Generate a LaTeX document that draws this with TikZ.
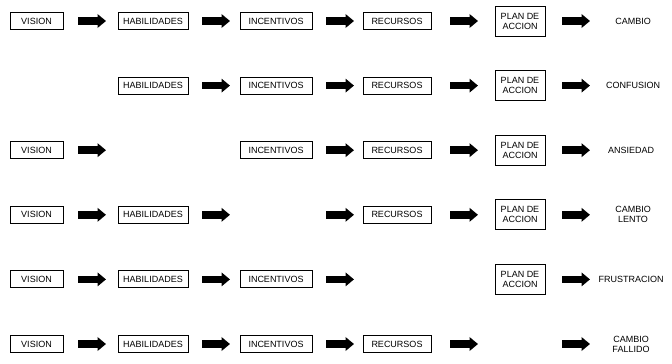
\documentclass[tikz,border=0pt]{standalone}
\usepackage{fontspec}
\setmainfont{Liberation Sans}
\usetikzlibrary{arrows.meta}

\tikzset{
  caja/.style={draw, line width=0.9pt, inner sep=0pt, minimum height=17pt,
    font=\fontsize{9}{10}\selectfont, align=center},
  flecha/.style={line width=7.5pt, -{Triangle[length=8.5pt,width=13.5pt]}},
  efecto/.style={font=\fontsize{9}{10}\selectfont, align=center}
}

\begin{document}
\begin{tikzpicture}[x=1pt,y=-1pt]
  \useasboundingbox (0,0) rectangle (672,364);
  % one row every 64.6pt, first at 21
  \foreach \f in {1,3,4,5,6}
    \node[caja, minimum width=53pt] (vision\f) at (36.5,{21+64.6*(\f-1)}) {VISION};
  \foreach \f in {1,2,4,5,6}
    \node[caja, minimum width=70pt] (habil\f) at (153,{21+64.6*(\f-1)}) {HABILIDADES};
  \foreach \f in {1,2,3,5,6}
    \node[caja, minimum width=72pt] (incent\f) at (276,{21+64.6*(\f-1)}) {INCENTIVOS};
  \foreach \f in {1,2,3,4,6}
    \node[caja, minimum width=68pt] (recur\f) at (397,{21+64.6*(\f-1)}) {RECURSOS};
  \foreach \f in {1,2,3,4,5}
    \node[caja, minimum width=50pt, minimum height=30pt] (plan\f) at (520,{21+64.6*(\f-1)}) {PLAN DE\\ACCION};

  % results
  \node[efecto] (res1) at (633,21) {CAMBIO};
  \node[efecto] (res2) at (633,85.6) {CONFUSION};
  \node[efecto] (res3) at (631,150.2) {ANSIEDAD};
  \node[efecto] (res4) at (633,214.8) {CAMBIO\\LENTO};
  \node[efecto] (res5) at (631,279.4) {FRUSTRACION};
  \node[efecto] (res6) at (631,344) {CAMBIO\\FALLIDO};

  % arrows
  \foreach \f/\cols in {1/{78,202,326,450,562}, 2/{202,326,450,562},
      3/{78,326,450,562}, 4/{78,202,326,450,562},
      5/{78,202,326,562}, 6/{78,202,326,450,562}}
    \foreach \x in \cols {
      \coordinate (ini) at (\x,{21+64.6*(\f-1)});
      \coordinate (fin) at (\x+28,{21+64.6*(\f-1)});
      \draw[flecha] (ini) -- (fin);
    }
\end{tikzpicture}
\end{document}
